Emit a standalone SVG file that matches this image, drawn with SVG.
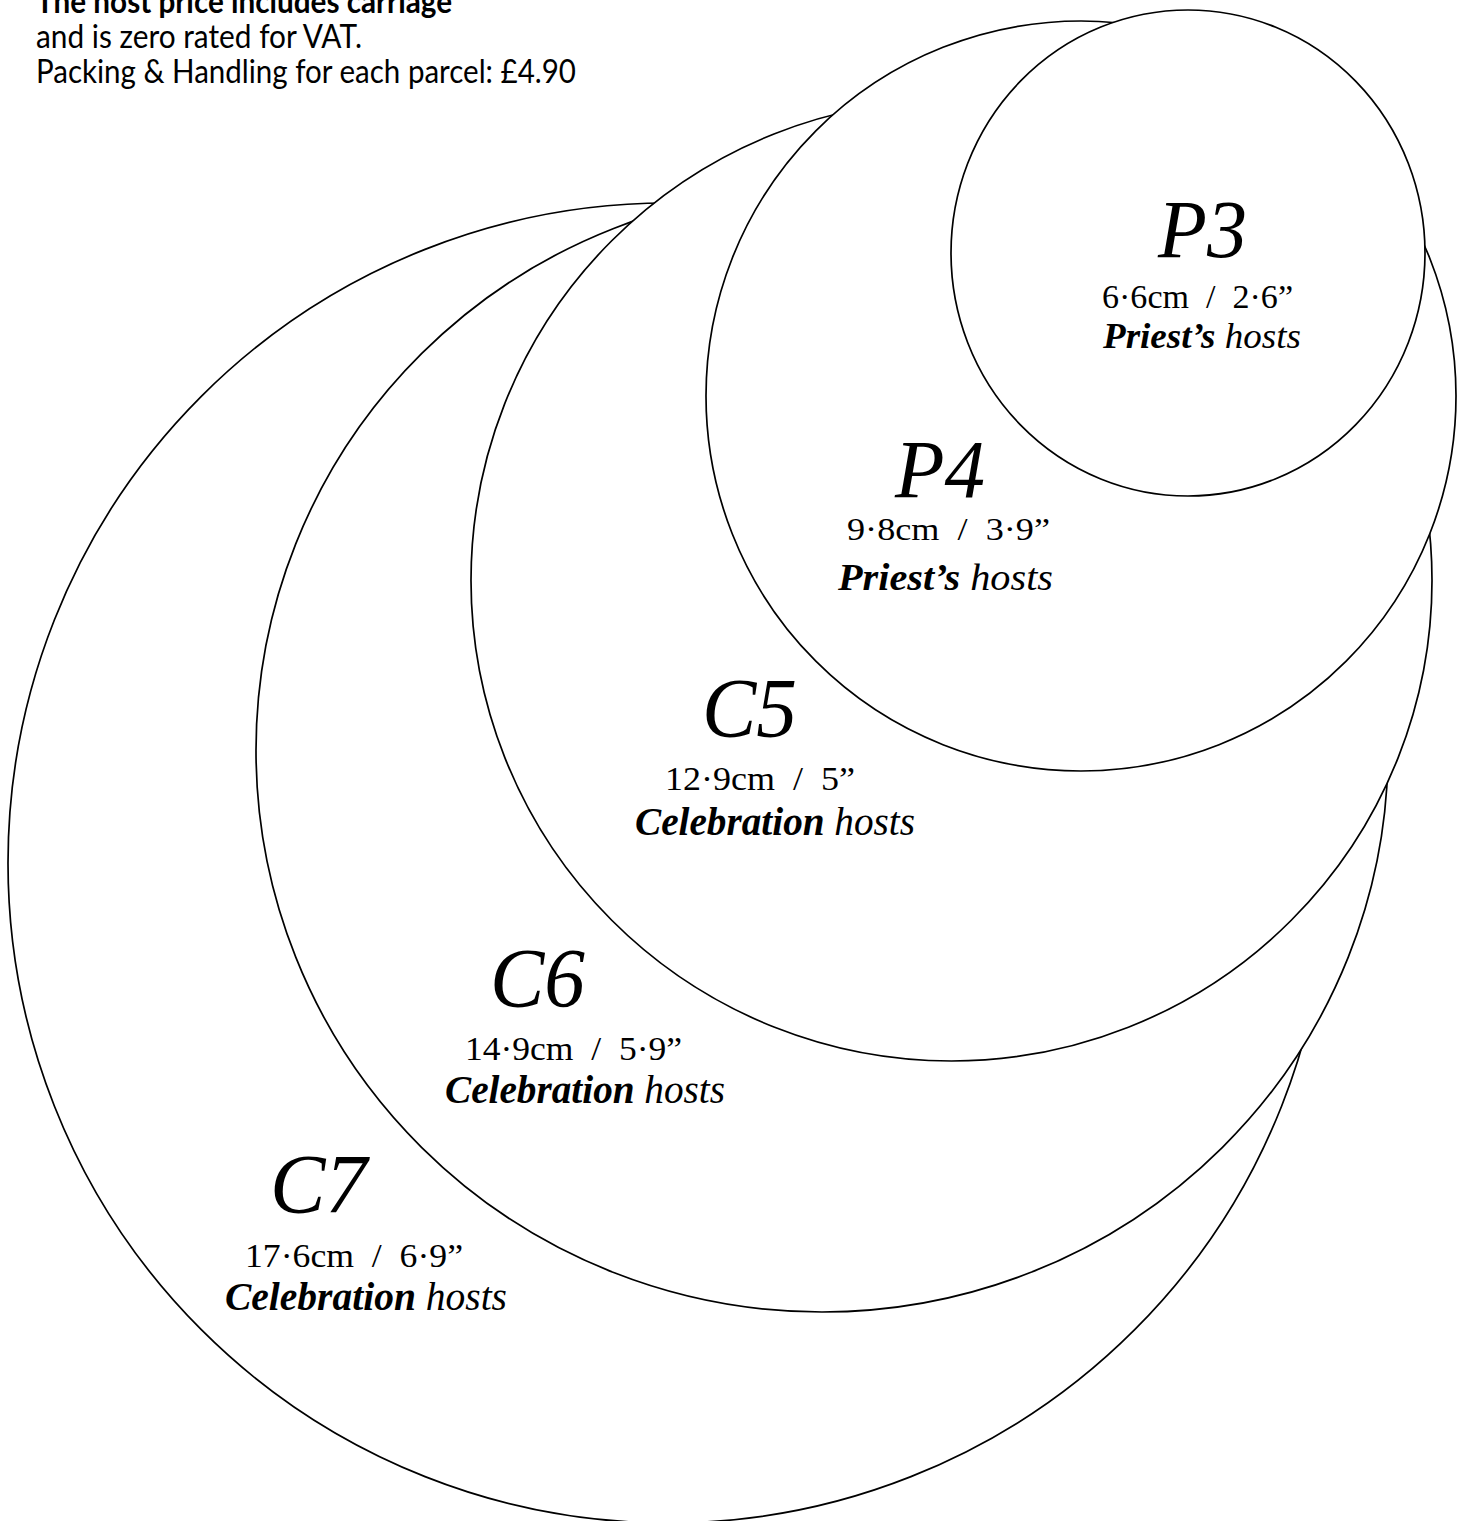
<svg xmlns="http://www.w3.org/2000/svg" width="1464" height="1521" viewBox="0 0 1464 1521">
<style>
.ring{fill:#fff;stroke:#000;stroke-width:1.7}
.hdr{font-family:Lato,"Open Sans","Liberation Sans",sans-serif;font-size:32px;fill:#000}
.big{font-family:"Liberation Serif","Times New Roman",serif;font-style:italic;fill:#000}
.dim{font-family:"Liberation Serif","Times New Roman",serif;fill:#000;white-space:pre}
.kind{font-family:"Liberation Serif","Times New Roman",serif;font-style:italic;fill:#000}
.kind .b{font-weight:bold}
</style>
<rect width="1464" height="1521" fill="#fff"/>
<g id="header">
<text class="hdr" x="36" y="13" font-weight="bold" textLength="416" lengthAdjust="spacingAndGlyphs">The host price includes carriage</text>
<text class="hdr" x="36" y="48" textLength="326" lengthAdjust="spacingAndGlyphs">and is zero rated for VAT.</text>
<text class="hdr" x="36" y="83" textLength="540" lengthAdjust="spacingAndGlyphs">Packing &amp; Handling for each parcel: £4.90</text>
</g>
<g id="C7">
<circle class="ring" cx="668" cy="863" r="660"/>
<text class="big" x="270" y="1213" font-size="85" textLength="97" lengthAdjust="spacingAndGlyphs">C7</text>
<text class="dim" x="245" y="1267" font-size="34" textLength="218" lengthAdjust="spacingAndGlyphs">17·6cm  /  6·9”</text>
<text class="kind" x="225" y="1310" font-size="39" textLength="282" lengthAdjust="spacingAndGlyphs"><tspan class="b">Celebration</tspan> hosts</text>
</g>
<g id="C6">
<ellipse class="ring" cx="822" cy="750.5" rx="566" ry="561.5"/>
<text class="big" x="490" y="1007" font-size="85" textLength="95" lengthAdjust="spacingAndGlyphs">C6</text>
<text class="dim" x="465" y="1060" font-size="34" textLength="217" lengthAdjust="spacingAndGlyphs">14·9cm  /  5·9”</text>
<text class="kind" x="445" y="1103" font-size="39" textLength="280" lengthAdjust="spacingAndGlyphs"><tspan class="b">Celebration</tspan> hosts</text>
</g>
<g id="C5">
<circle class="ring" cx="951.5" cy="580.5" r="480.5"/>
<text class="big" x="702" y="737" font-size="85" textLength="95" lengthAdjust="spacingAndGlyphs">C5</text>
<text class="dim" x="665" y="790" font-size="34" textLength="190" lengthAdjust="spacingAndGlyphs">12·9cm  /  5”</text>
<text class="kind" x="635" y="835" font-size="39" textLength="280" lengthAdjust="spacingAndGlyphs"><tspan class="b">Celebration</tspan> hosts</text>
</g>
<g id="P4">
<circle class="ring" cx="1081" cy="396" r="375"/>
<text class="big" x="895" y="497" font-size="83" textLength="90" lengthAdjust="spacingAndGlyphs">P4</text>
<text class="dim" x="847" y="540" font-size="32" textLength="203" lengthAdjust="spacingAndGlyphs">9·8cm  /  3·9”</text>
<text class="kind" x="838" y="590" font-size="38" textLength="215" lengthAdjust="spacingAndGlyphs"><tspan class="b">Priest’s</tspan> hosts</text>
</g>
<g id="P3">
<ellipse class="ring" cx="1188" cy="253" rx="237" ry="243"/>
<text class="big" x="1158" y="257" font-size="82" textLength="89" lengthAdjust="spacingAndGlyphs">P3</text>
<text class="dim" x="1102" y="308" font-size="33" textLength="191" lengthAdjust="spacingAndGlyphs">6·6cm  /  2·6”</text>
<text class="kind" x="1103" y="348" font-size="35" textLength="198" lengthAdjust="spacingAndGlyphs"><tspan class="b">Priest’s</tspan> hosts</text>
</g>
<g id="connectors"/>
</svg>
